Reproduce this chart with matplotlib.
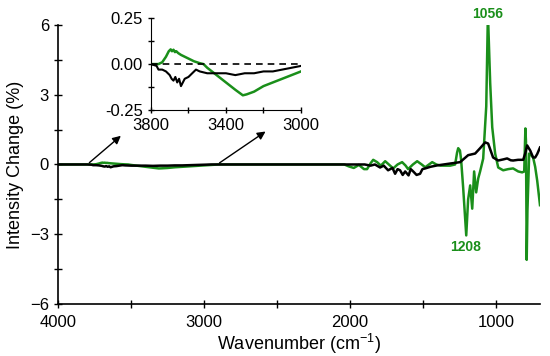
"""FTIR difference spectra: intensity change vs wavenumber, with inset of the OH region"""

import matplotlib
matplotlib.use("Agg")
import matplotlib.pyplot as plt
import matplotlib.ticker as mt

plt.rcParams['font.family'] = ['Liberation Sans', 'DejaVu Sans']
plt.rcParams['mathtext.default'] = 'regular'

GREEN = '#1a8f1a'

# green spectrum (wavenumber, intensity change %)
green_wn = [4000, 3800, 3760, 3740, 3720, 3705, 3695, 3688, 3680, 3672, 3665, 3655,
            3640, 3620, 3600, 3570, 3540, 3520, 3500, 3450, 3400, 3350, 3310, 3290,
            3250, 3200, 3150, 3100, 3050, 3000, 2950, 2900, 2100, 2040, 2010, 1975,
            1940, 1905, 1884, 1860, 1842, 1815, 1790, 1760, 1735, 1705, 1675, 1644,
            1620, 1603, 1570, 1541, 1510, 1486, 1460, 1438, 1410, 1380, 1350, 1315,
            1281, 1268, 1260, 1248, 1240, 1226, 1205, 1192, 1178, 1164, 1151, 1137,
            1123, 1110, 1089, 1068, 1058, 1054, 1041, 1027, 1007, 986, 952, 918,
            884, 849, 822, 808, 800, 796, 791, 786, 781, 774, 760, 747, 733, 719, 700]
green_val = [0, 0, 0.0, 0.01, 0.04, 0.07, 0.08, 0.07, 0.078, 0.065, 0.07, 0.06,
             0.05, 0.04, 0.03, 0.015, 0.005, 0.0, -0.02, -0.06, -0.10, -0.14, -0.17, -0.165,
             -0.15, -0.12, -0.10, -0.08, -0.06, -0.04, -0.02, 0, 0, 0, -0.08, -0.15,
             -0.02, -0.2, -0.2, 0.05, 0.2, 0.1, -0.05, 0.14, 0.0, -0.17, 0.0, 0.1,
             -0.05, -0.2, 0.0, 0.14, 0.0, -0.12, 0.0, 0.1, 0.0, -0.05, -0.05, -0.05,
             0.0, 0.5, 0.7, 0.6, 0.2, -1.0, -3.05, -1.5, -0.9, -1.9, -0.3, -1.2,
             -0.6, -0.3, 0.25, 2.5, 6.0, 6.0, 3.5, 1.6, 0.47, -0.13, -0.25, -0.2,
             -0.17, -0.3, -0.34, -0.3, 1.55, 1.0, -4.1, -2.0, -1.0, 0.47, 0.4, 0.3, -0.1, -0.7, -1.75]

# black spectrum (wavenumber, intensity change %)
black_wn = [4000, 3800, 3770, 3760, 3740, 3720, 3700, 3690, 3680, 3670, 3660, 3650,
            3640, 3630, 3620, 3600, 3580, 3560, 3540, 3500, 3450, 3400, 3350, 3300,
            3250, 3200, 3150, 3100, 3050, 3000, 2950, 1900, 1860, 1830, 1795, 1770,
            1740, 1710, 1692, 1675, 1658, 1640, 1623, 1600, 1585, 1568, 1545, 1521,
            1505, 1486, 1450, 1404, 1315, 1247, 1192, 1144, 1110, 1075, 1055, 1021,
            986, 950, 925, 900, 884, 850, 815, 800, 788, 767, 747, 733, 719, 700]
black_val = [0, 0, -0.01, -0.03, -0.03, -0.04, -0.06, -0.08, -0.09, -0.07, -0.1, -0.08,
             -0.12, -0.1, -0.08, -0.07, -0.05, -0.03, -0.04, -0.05, -0.05, -0.05, -0.06, -0.05,
             -0.05, -0.04, -0.04, -0.03, -0.02, -0.01, 0, 0, -0.05, 0.0, -0.13, -0.05,
             -0.25, -0.15, -0.4, -0.2, -0.25, -0.45, -0.3, -0.47, -0.2, -0.3, -0.45, -0.4,
             -0.2, -0.17, -0.1, -0.04, 0.04, 0.1, 0.4, 0.47, 0.7, 0.95, 0.9, 0.3,
             0.17, 0.22, 0.26, 0.18, 0.17, 0.2, 0.2, 0.5, 0.82, 0.6, 0.3, 0.3, 0.45, 0.73]

inset_xticks = [3800, 3400, 3000]
inset_xminor = [3600, 3200]


def graph():
    fig = plt.figure(figsize=(5.5, 3.56), dpi=100)
    ax = fig.add_axes([0.1055, 0.146, 0.8763, 0.784])

    ax.plot(green_wn, green_val, color=GREEN, lw=1.8)
    ax.plot(black_wn, black_val, color='black', lw=1.8)

    ax.set_xlim(4000, 700)
    ax.set_ylim(-6, 6)
    ax.xaxis.set_major_locator(mt.MultipleLocator(1000))
    ax.xaxis.set_minor_locator(mt.MultipleLocator(500))
    ax.yaxis.set_major_locator(mt.MultipleLocator(3))
    ax.yaxis.set_minor_locator(mt.MultipleLocator(1.5))
    ax.tick_params(which='both', direction='inout', length=6, width=1, labelsize=12)
    ax.tick_params(axis='x', pad=5)
    for side in ['top', 'right']:
        ax.spines[side].set_visible(False)
    for side in ['left', 'bottom']:
        ax.spines[side].set_linewidth(1.2)
    ax.set_xlabel('Wavenumber (cm$^{-1}$)', fontsize=13, labelpad=1)
    ax.set_ylabel('Intensity Change (%)', fontsize=13)

    ax.text(1056, 6.15, '1056', color=GREEN, fontsize=10, fontweight='bold',
            ha='center', va='bottom')
    ax.text(1208, -3.25, '1208', color=GREEN, fontsize=10, fontweight='bold',
            ha='center', va='top')

    # arrows pointing to the inset axis ends
    ax.annotate('', xy=(0.2236, 0.6236), xycoords='figure fraction',
                xytext=(3800, 0), textcoords='data',
                arrowprops=dict(arrowstyle='-|>', color='black', lw=1, mutation_scale=12))
    ax.annotate('', xy=(0.487, 0.635), xycoords='figure fraction',
                xytext=(2910, 0), textcoords='data',
                arrowprops=dict(arrowstyle='-|>', color='black', lw=1, mutation_scale=12))

    # inset
    ins = fig.add_axes([0.2745, 0.691, 0.2727, 0.258])
    ins.plot(green_wn, green_val, color=GREEN, lw=1.8)
    ins.plot(black_wn, black_val, color='black', lw=1.5)
    ins.axhline(0, color='black', ls='--', lw=1.2, dashes=(4, 3))
    ins.set_xlim(3800, 3000)
    ins.set_ylim(-0.25, 0.25)
    ins.xaxis.set_major_locator(mt.FixedLocator(inset_xticks))
    ins.xaxis.set_minor_locator(mt.FixedLocator(inset_xminor))
    ins.yaxis.set_major_locator(mt.MultipleLocator(0.25))
    ins.yaxis.set_minor_locator(mt.MultipleLocator(0.125))
    ins.yaxis.set_major_formatter(mt.FormatStrFormatter('%.2f'))
    ins.tick_params(which='both', direction='inout', length=5, width=1, labelsize=12)
    ins.patch.set_alpha(0)
    for side in ['top', 'right']:
        ins.spines[side].set_visible(False)

    fig.savefig('out.png', dpi=100)


def main():
    graph()


if __name__ == "__main__":
    main()
